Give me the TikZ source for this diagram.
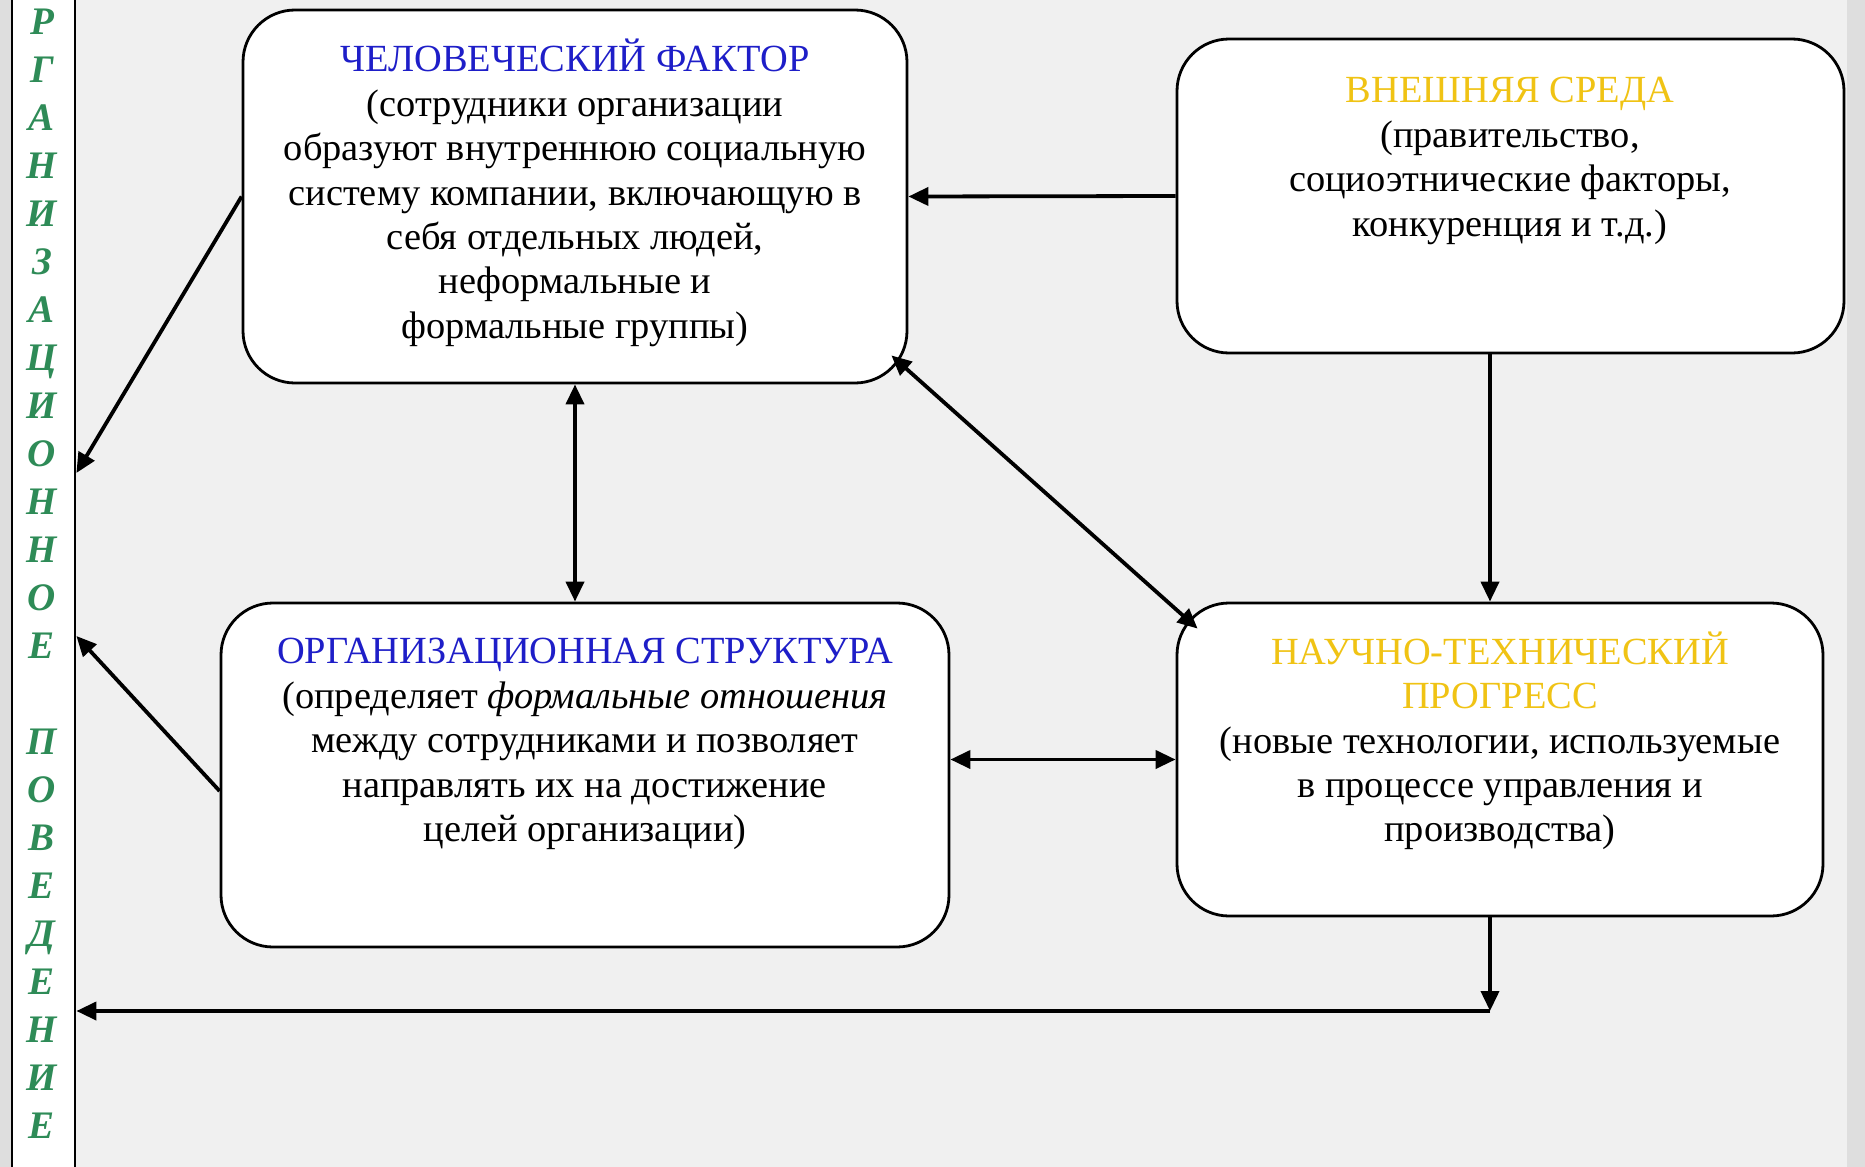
\documentclass[tikz,border=0pt]{standalone}
\usepackage{fontspec}
\setmainfont{Liberation Serif}
\usetikzlibrary{arrows.meta}
\definecolor{bgc}{RGB}{240,240,240}
\definecolor{edgec}{RGB}{222,222,222}
\definecolor{titleblue}{RGB}{30,30,200}
\definecolor{titlegold}{RGB}{240,195,20}
\definecolor{lettergreen}{RGB}{46,139,87}
\tikzset{
 box/.style={draw=black, line width=1.4pt, fill=white, rounded corners=26pt, inner sep=0pt},
 boxtext/.style={align=center, font=\fontsize{19.2}{22.2}\selectfont, inner sep=0pt},
 arr/.style={line width=1.9pt, -{Triangle[length=10pt,width=9pt]}},
 darr/.style={line width=1.9pt, {Triangle[length=10pt,width=9pt]}-{Triangle[length=10pt,width=9pt]}},
 letter/.style={font=\fontsize{19.5}{24}\selectfont\bfseries\itshape, text=lettergreen, inner sep=0pt, anchor=base},
}
\begin{document}
\begin{tikzpicture}[x=0.5pt,y=-0.5pt]
\useasboundingbox (0,0) rectangle (1865,1167);
\fill[bgc] (0,0) rectangle (1865,1167);
\fill[edgec] (1847,0) rectangle (1865,1167);
\fill[edgec] (0,0) rectangle (12,1167);
\node[draw, line width=1.4pt, fill=white, minimum width=31.5pt, minimum height=600pt, inner sep=0pt] (col) at (43.5,583.5) {};
\foreach \i/\ch in {0/Р,1/Г,2/А,3/Н,4/И,5/З,6/А,7/Ц,8/И,9/О,10/Н,11/Н,12/О,13/Е,15/П,16/О,17/В,18/Е,19/Д,20/Е,21/Н,22/И,23/Е}
  \node[letter] (l\i) at (42,34+48*\i) {\ch};

\node[box, minimum width=332pt, minimum height=186.5pt] (b1) at (575,196.5) {};
\node[box, minimum width=333.5pt, minimum height=157pt] (b2) at (1510.5,196) {};
\node[box, minimum width=364pt, minimum height=172pt] (b3) at (585,775) {};
\node[box, minimum width=323pt, minimum height=156.5pt] (b4) at (1500,759.5) {};

\node[boxtext] (t1) at (575,193) {\textcolor{titleblue}{ЧЕЛОВЕЧЕСКИЙ ФАКТОР}\\(сотрудники организации\\образуют внутреннюю социальную\\систему компании, включающую в\\себя отдельных людей,\\неформальные и\\формальные группы)};
\node[boxtext] (t2) at (1510,161) {\textcolor{titlegold}{ВНЕШНЯЯ СРЕДА}\\(правительство,\\социоэтнические факторы,\\конкуренция и т.д.)};
\node[boxtext] (t3) at (585,744) {\textcolor{titleblue}{ОРГАНИЗАЦИОННАЯ СТРУКТУРА}\\(определяет \textit{формальные отношения}\\между сотрудниками и позволяет\\направлять их на достижение\\целей организации)};
\node[boxtext] (t4) at (1500,741) {\textcolor{titlegold}{НАУЧНО-ТЕХНИЧЕСКИЙ}\\\textcolor{titlegold}{ПРОГРЕСС}\\(новые технологии, используемые\\в процессе управления и\\производства)};

\coordinate (vx) at (1490,0);
\coordinate (h1) at (0,473);
\coordinate (h2) at (0,636);
\coordinate (j) at (1490,1011);
\draw[arr] (b2.west) -- (b1.east);
\draw[arr] (b2.south -| vx) -- (b4.north -| vx);
\draw[darr] (b1.south) -- (b3.north -| b1.south);
\draw[darr] ([shift={(-17,-29)}]b1.south east) -- ([shift={(22,27)}]b4.north west);
\draw[darr] (b3.east |- b4.west) -- (b4.west);
\draw[arr] (b1.west) -- (col.east |- h1);
\draw[arr] ([yshift=-8pt]b3.west) -- (col.east |- h2);
\draw[arr] (b4.south -| vx) -- (j);
\draw[arr] (j) -- (col.east |- j);
\end{tikzpicture}
\end{document}
